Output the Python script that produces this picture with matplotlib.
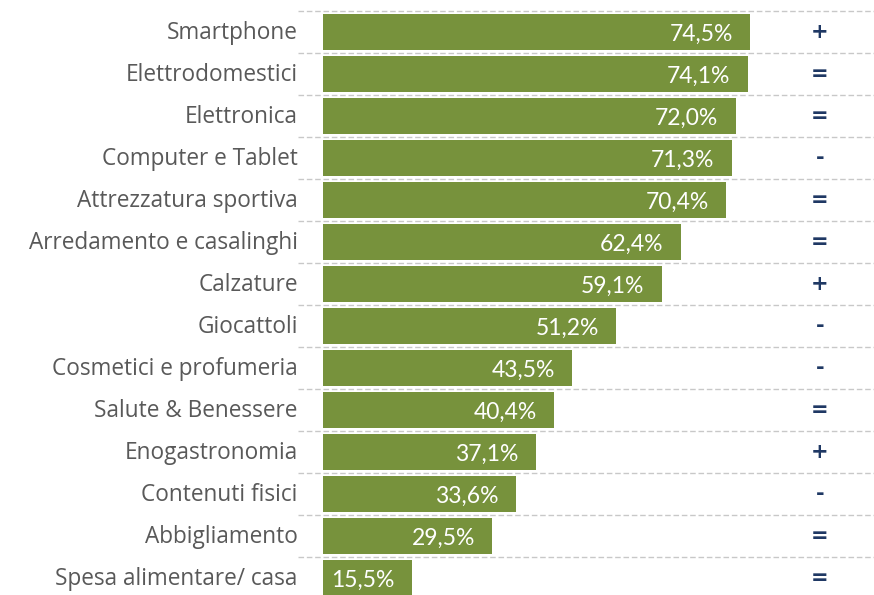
import matplotlib
matplotlib.use('Agg')
import matplotlib.pyplot as plt

# Data
categories = ['Smartphone', 'Elettrodomestici', 'Elettronica', 'Computer e Tablet',
              'Attrezzatura sportiva', 'Arredamento e casalinghi', 'Calzature', 'Giocattoli',
              'Cosmetici e profumeria', 'Salute & Benessere', 'Enogastronomia',
              'Contenuti fisici', 'Abbigliamento', 'Spesa alimentare/ casa']
values = [74.5, 74.1, 72.0, 71.3, 70.4, 62.4, 59.1, 51.2, 43.5, 40.4, 37.1, 33.6, 29.5, 15.5]
trend = ['+', '=', '=', '-', '=', '=', '+', '-', '-', '=', '+', '-', '=', '=']

bar_color = '#77923C'
label_color = '#595959'
sign_color = '#1F3864'

fig = plt.figure(figsize=(8.74, 5.95), dpi=100)
# axes starts where bars start (x=323px) and runs to the right edge
ax = fig.add_axes([323 / 874, 0, 1 - 323 / 874, 1])

xmax = (874 - 323) / 5.73
ax.set_xlim(0, xmax)
ax.set_ylim(13.4, -0.76)

ypos = list(range(len(categories)))
ax.barh(ypos, values, height=0.86, color=bar_color, zorder=2)

# dashed separators between rows
for i in range(len(categories)):
    ax.plot([-4.4, xmax], [i - 0.5, i - 0.5], color='#C8C8C8', lw=1.0,
            ls=(0, (4, 2)), clip_on=False, zorder=1)

for y, cat, v, t in zip(ypos, categories, values, trend):
    ax.text(-4.4, y + 0.03, cat, ha='right', va='center', fontsize=16.3,
            color=label_color, family='Open Sans')
    ax.text(v - 3.0, y + 0.06, f'{v:.1f}%'.replace('.', ','), ha='right', va='center',
            fontsize=16.5, color='white', family='Lato')
    ax.text(86.7, y, t, ha='center', va='center', fontsize=15, fontweight='bold',
            color=sign_color, family='DejaVu Sans')

ax.axis('off')
fig.savefig('out.png', dpi=100)
